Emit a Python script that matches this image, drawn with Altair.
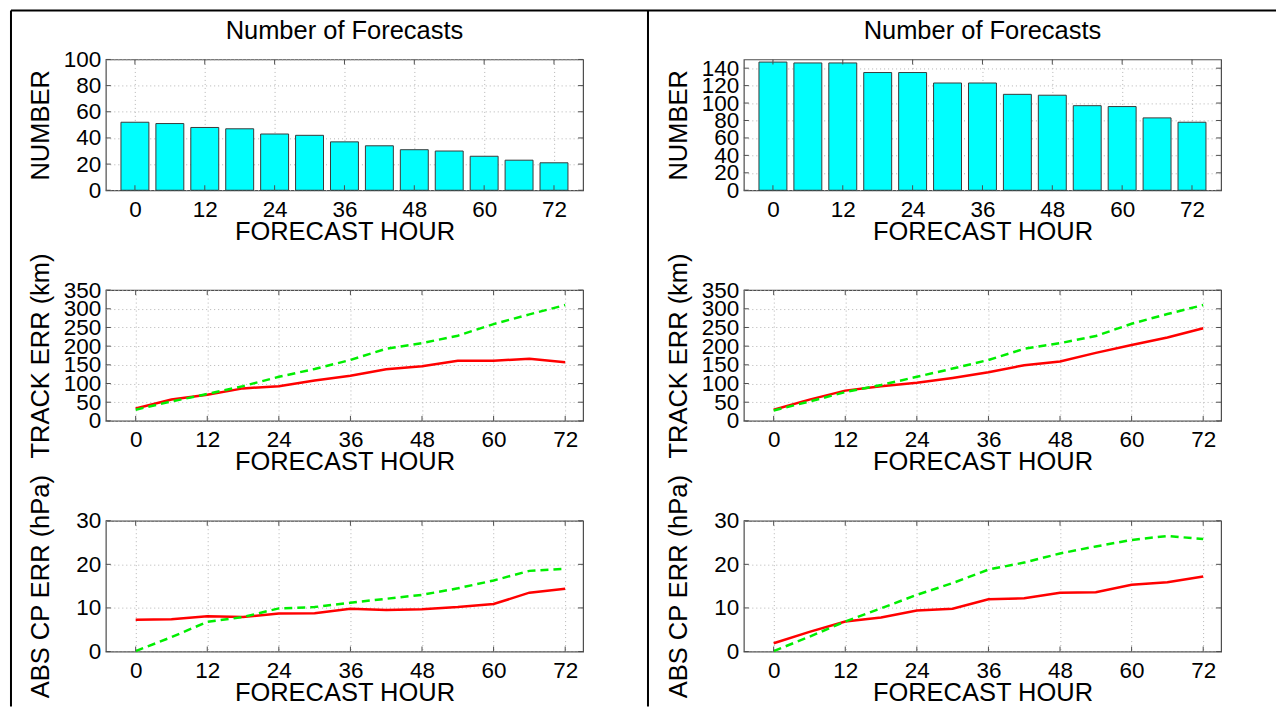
import altair as alt
import pandas as pd

# ---------------- data ----------------
hours = [0, 6, 12, 18, 24, 30, 36, 42, 48, 54, 60, 66, 72]

count_left = [52, 51, 48, 47, 43, 42, 37, 34, 31, 30, 26, 23, 21]
count_right = [147, 146, 146, 135, 135, 123, 123, 110, 109, 97, 96, 83, 78]

track_red_left = [33, 57, 70, 87, 93, 108, 121, 138, 146, 161, 161, 166, 157]
track_green_left = [30, 52, 72, 93, 118, 139, 163, 193, 208, 228, 259, 285, 310]
track_red_right = [30, 57, 81, 93, 102, 115, 130, 149, 159, 182, 203, 223, 248]
track_green_right = [28, 52, 77, 96, 118, 140, 163, 193, 208, 227, 260, 286, 310]

cp_red_left = [7.3, 7.4, 8.1, 7.9, 8.7, 8.8, 9.8, 9.5, 9.7, 10.2, 10.9, 13.5, 14.4]
cp_green_left = [0.1, 3.3, 6.8, 7.9, 9.9, 10.2, 11.2, 12.1, 13.0, 14.5, 16.3, 18.5, 19.0]
cp_red_right = [1.9, 4.5, 6.9, 7.8, 9.4, 9.8, 12.0, 12.2, 13.5, 13.6, 15.3, 15.9, 17.2]
cp_green_right = [0.1, 3.4, 6.9, 9.9, 13.0, 15.7, 18.8, 20.4, 22.5, 24.1, 25.6, 26.5, 25.8]

hour_ticks = [0, 12, 24, 36, 48, 60, 72]
count_ticks_left = [0, 20, 40, 60, 80, 100]
count_ticks_right = [0, 20, 40, 60, 80, 100, 120, 140]
track_ticks = [0, 50, 100, 150, 200, 250, 300, 350]
cp_ticks = [0, 10, 20, 30]

panel_title = "Number of Forecasts"

# ---------------- style ----------------
FONT = "Liberation Sans"
LABEL_SIZE = 22.5
TITLE_SIZE = 25.5
W, H = 478, 131
FRAME = "#4d4d4d"
GRID = dict(grid=True, gridColor="#b4b4b4", gridDash=[1, 3], gridWidth=1,
            ticks=False, tickSize=0, domain=False, labelOverlap=False,
            labelFont=FONT, labelFontSize=LABEL_SIZE, labelColor="black",
            titleFont=FONT, titleFontSize=TITLE_SIZE, titleFontWeight="normal",
            titleColor="black")

one_row = pd.DataFrame({"k": [0]})


def x_axis():
    return alt.Axis(values=hour_ticks, title="FORECAST HOUR", labelPadding=26,
                    labelBaseline="alphabetic", titleY=49,
                    titleBaseline="alphabetic", titleAlign="center", **GRID)


def y_axis(title, values):
    return alt.Axis(values=values, title=title, labelPadding=5,
                    labelBaseline="middle", titleX=-57, titleY=H / 2,
                    titleAngle=270, titleAlign="center",
                    titleBaseline="alphabetic", **GRID)


def title_layer():
    return alt.Chart(one_row).mark_text(
        font=FONT, fontSize=TITLE_SIZE, color="black", align="center",
        baseline="alphabetic").encode(
        x=alt.value(W / 2), y=alt.value(-20), text=alt.value(panel_title))


def inner_ticks(xscale, yscale, ytitle, yvals):
    """Short inward tick marks on all four sides, as in the original frame."""
    xt = pd.DataFrame({"t": hour_ticks})
    yt = pd.DataFrame({"t": yvals})
    st = dict(color=FRAME, strokeWidth=1)
    xenc = alt.X("t:Q", scale=xscale, axis=x_axis())
    yenc = alt.Y("t:Q", scale=yscale, axis=y_axis(ytitle, yvals))
    return [
        alt.Chart(xt).mark_rule(**st).encode(
            x=xenc, y=alt.value(H), y2=alt.value(H - 5)),
        alt.Chart(xt).mark_rule(**st).encode(
            x=xenc, y=alt.value(0), y2=alt.value(5)),
        alt.Chart(yt).mark_rule(**st).encode(
            y=yenc, x=alt.value(0), x2=alt.value(5)),
        alt.Chart(yt).mark_rule(**st).encode(
            y=yenc, x=alt.value(W), x2=alt.value(W - 5)),
    ]


def bar_panel(counts, ymax, yticks):
    df = pd.DataFrame({"hour": hours, "count": counts})
    xscale = alt.Scale(domain=[-5, 77], nice=False, zero=False)
    yscale = alt.Scale(domain=[0, ymax], nice=False)
    bars = (
        alt.Chart(df)
        .transform_calculate(h0="datum.hour - 2.4", h1="datum.hour + 2.4")
        .mark_bar(color="#00ffff", stroke="#3a3a3a", strokeWidth=1)
        .encode(
            x=alt.X("h0:Q", scale=xscale, axis=x_axis()),
            x2="h1:Q",
            y=alt.Y("count:Q", scale=yscale, axis=y_axis("NUMBER", yticks)),
            y2=alt.datum(0),
        )
    )
    return [bars] + inner_ticks(xscale, yscale, "NUMBER", yticks)


def line_panel(red, green, ymax, yticks, title):
    df = pd.DataFrame({
        "hour": hours * 2,
        "value": red + green,
        "series": ["red"] * len(hours) + ["green"] * len(hours),
    })
    xscale = alt.Scale(domain=[-5, 75], nice=False, zero=False)
    yscale = alt.Scale(domain=[0, ymax], nice=False)
    x = alt.X("hour:Q", scale=xscale, axis=x_axis())
    y = alt.Y("value:Q", scale=yscale, axis=y_axis(title, yticks))
    base = alt.Chart(df).encode(x=x, y=y)
    red_line = base.transform_filter(alt.datum.series == "red").mark_line(
        color="#ff0000", strokeWidth=2.5)
    green_line = base.transform_filter(alt.datum.series == "green").mark_line(
        color="#00ee00", strokeWidth=2.5, strokeDash=[8, 5])
    return alt.layer(red_line, green_line,
                     *inner_ticks(xscale, yscale, title, yticks)
                     ).properties(width=W, height=H)


rule_style = dict(color="black", strokeWidth=2)
top_rule = alt.Chart(one_row).mark_rule(**rule_style).encode(
    x=alt.value(-95), x2=alt.value(1172), y=alt.value(-49))
left_rule = alt.Chart(one_row).mark_rule(**rule_style).encode(
    x=alt.value(-95), y=alt.value(-49), y2=alt.value(648))
mid_rule = alt.Chart(one_row).mark_rule(**rule_style).encode(
    x=alt.value(543), y=alt.value(-49), y2=alt.value(648))

tl = alt.layer(*bar_panel(count_left, 100, count_ticks_left), title_layer(),
               top_rule, left_rule, mid_rule).properties(width=W, height=H)
tr = alt.layer(*bar_panel(count_right, 150, count_ticks_right),
               title_layer()).properties(width=W, height=H)
ml = line_panel(track_red_left, track_green_left, 350, track_ticks, "TRACK ERR (km)")
mr = line_panel(track_red_right, track_green_right, 350, track_ticks, "TRACK ERR (km)")
bl = line_panel(cp_red_left, cp_green_left, 30, cp_ticks, "ABS CP ERR (hPa)")
br = line_panel(cp_red_right, cp_green_right, 30, cp_ticks, "ABS CP ERR (hPa)")

chart = (
    alt.concat(tl, tr, ml, mr, bl, br, columns=2,
               spacing={"row": 100, "column": 161}, bounds="flush")
    .properties(padding={"left": 9, "top": 8, "right": 0, "bottom": 0},
                background="white")
    .configure_view(stroke=FRAME, strokeWidth=1.2)
)

chart.save("out.html", embed_options={"renderer": "svg", "actions": False})
